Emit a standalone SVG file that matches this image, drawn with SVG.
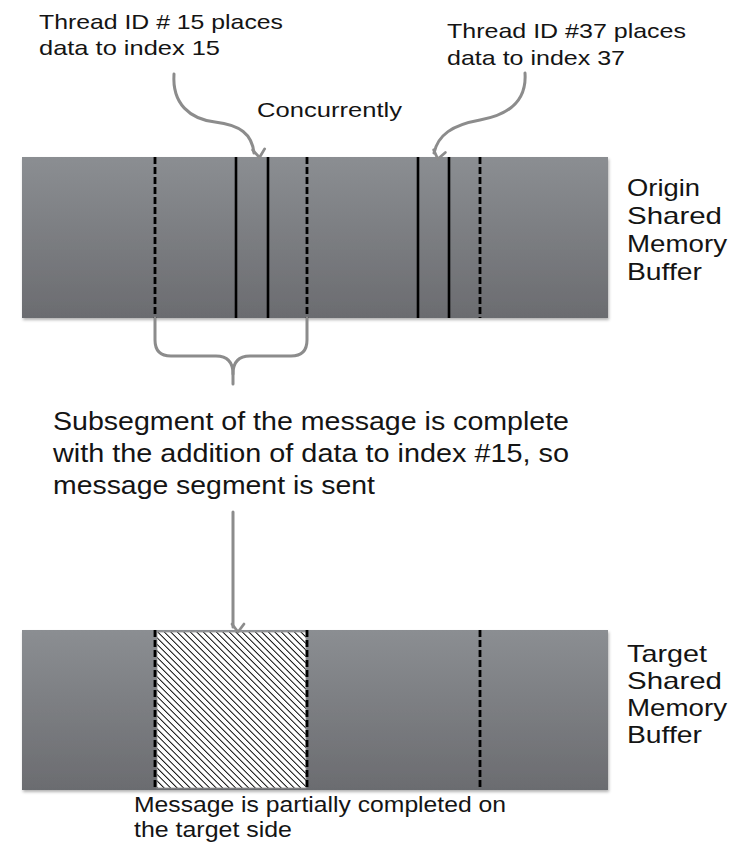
<svg xmlns="http://www.w3.org/2000/svg" width="733" height="843" viewBox="0 0 733 843">
  <defs>
    <linearGradient id="barFill" x1="0" y1="0" x2="0" y2="1">
      <stop offset="0" stop-color="#8b8e92"/>
      <stop offset="1" stop-color="#6b6c70"/>
    </linearGradient>
    <pattern id="hatch" patternUnits="userSpaceOnUse" width="4.6" height="4.6" patternTransform="rotate(-45)">
      <rect width="4.6" height="4.6" fill="#ffffff"/>
      <line x1="0" y1="0" x2="0" y2="4.6" stroke="#000000" stroke-width="1.9"/>
    </pattern>
    <filter id="shadow" x="-5%" y="-5%" width="110%" height="115%">
      <feDropShadow dx="1" dy="2" stdDeviation="1.5" flood-color="#000" flood-opacity="0.3"/>
    </filter>
    <marker id="arrowHead" viewBox="0 0 16 16" refX="8" refY="13" markerWidth="16" markerHeight="16" markerUnits="userSpaceOnUse" orient="auto">
      <path d="M2,5 L8,13 L14,5" fill="none" stroke="#8c8c8c" stroke-width="2.8" stroke-linecap="round" stroke-linejoin="round" transform="rotate(-90 8 8)"/>
    </marker>
  </defs>
  <style>
    .label { font-family: "Liberation Sans", Arial, sans-serif; fill: #141414; }
    .small { font-size: 21px; }
    .mid { font-size: 24px; }
    .note { font-size: 22px; }
    .big { font-size: 26px; }
    .solid { stroke: #000; stroke-width: 2.6; }
    .dash { stroke: #000; stroke-width: 2.8; stroke-dasharray: 7 3; }
    .conn { fill: none; stroke: #8c8c8c; stroke-width: 3; stroke-linecap: round; }
  </style>

  <!-- origin buffer -->
  <g id="origin-buffer">
    <rect x="22" y="157" width="586" height="161" fill="url(#barFill)" filter="url(#shadow)"/>
    <line class="dash" x1="155" y1="157" x2="155" y2="318"/>
    <line class="solid" x1="236" y1="157" x2="236" y2="318"/>
    <line class="solid" x1="268" y1="157" x2="268" y2="318"/>
    <line class="dash" x1="307" y1="157" x2="307" y2="318"/>
    <line class="solid" x1="418" y1="157" x2="418" y2="318"/>
    <line class="solid" x1="449" y1="157" x2="449" y2="318"/>
    <line class="dash" x1="480" y1="157" x2="480" y2="318"/>
    <text class="label mid" x="627" y="196" textLength="73" lengthAdjust="spacingAndGlyphs">Origin</text>
    <text class="label mid" x="627" y="224" textLength="95" lengthAdjust="spacingAndGlyphs">Shared</text>
    <text class="label mid" x="627" y="252" textLength="100" lengthAdjust="spacingAndGlyphs">Memory</text>
    <text class="label mid" x="627" y="280" textLength="75" lengthAdjust="spacingAndGlyphs">Buffer</text>
  </g>

  <!-- target buffer -->
  <g id="target-buffer">
    <rect x="22" y="630" width="586" height="160" fill="url(#barFill)" filter="url(#shadow)"/>
    <rect x="157" y="632" width="149" height="156" fill="url(#hatch)" stroke="#9a9a9a" stroke-width="0.8"/>
    <line class="dash" x1="155" y1="630" x2="155" y2="790"/>
    <line class="dash" x1="307" y1="630" x2="307" y2="790"/>
    <line class="dash" x1="480" y1="630" x2="480" y2="790"/>
    <text class="label mid" x="627" y="662" textLength="80" lengthAdjust="spacingAndGlyphs">Target</text>
    <text class="label mid" x="627" y="689" textLength="95" lengthAdjust="spacingAndGlyphs">Shared</text>
    <text class="label mid" x="627" y="716" textLength="100" lengthAdjust="spacingAndGlyphs">Memory</text>
    <text class="label mid" x="627" y="743" textLength="75" lengthAdjust="spacingAndGlyphs">Buffer</text>
  </g>

  <g id="thread-15-note">
    <text class="label small" x="39" y="29" textLength="244" lengthAdjust="spacingAndGlyphs">Thread ID # 15 places</text>
    <text class="label small" x="39" y="55" textLength="181" lengthAdjust="spacingAndGlyphs">data to index 15</text>
  </g>

  <g id="thread-37-note">
    <text class="label small" x="447" y="38" textLength="239" lengthAdjust="spacingAndGlyphs">Thread ID #37 places</text>
    <text class="label small" x="447" y="65" textLength="178" lengthAdjust="spacingAndGlyphs">data to index 37</text>
  </g>

  <g id="concurrently-note">
    <text class="label small" x="257" y="117" textLength="145" lengthAdjust="spacingAndGlyphs">Concurrently</text>
  </g>

  <g id="subsegment-note">
    <text class="label big" x="53" y="430" textLength="516" lengthAdjust="spacingAndGlyphs">Subsegment of the message is complete</text>
    <text class="label big" x="53" y="462" textLength="516" lengthAdjust="spacingAndGlyphs">with the addition of data to index #15, so</text>
    <text class="label big" x="53" y="494" textLength="322" lengthAdjust="spacingAndGlyphs">message segment is sent</text>
  </g>

  <g id="partial-note">
    <text class="label note" x="134" y="812" textLength="372" lengthAdjust="spacingAndGlyphs">Message is partially completed on</text>
    <text class="label note" x="134" y="837" textLength="158" lengthAdjust="spacingAndGlyphs">the target side</text>
  </g>

  <!-- connectors -->
  <g id="connectors">
    <path class="conn" d="M174,74 C172,104 190,119 215,122 C240,125 252,134 254,153" marker-end="url(#arrowHead)"/>
    <path class="conn" d="M525,73 C527,102 508,115 480,120 C452,125 438,135 434,153" marker-end="url(#arrowHead)"/>
    <path class="conn" d="M155,318 L155,340 Q155,356 171,356 L216,356 Q233,356 233,374 L233,384"/>
    <path class="conn" d="M307,318 L307,340 Q307,356 291,356 L250,356 Q233,356 233,374"/>
    <path class="conn" d="M233,512 L233,627" marker-end="url(#arrowHead)"/>
  </g>
</svg>
